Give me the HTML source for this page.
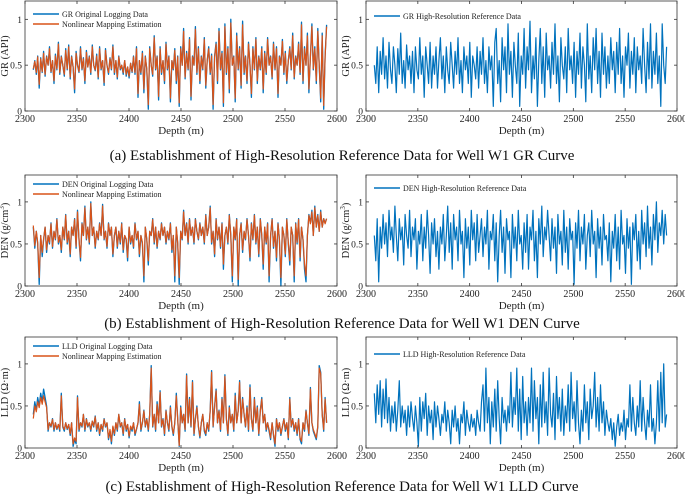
<!DOCTYPE html>
<html><head><meta charset="utf-8">
<style>
html,body{margin:0;padding:0;background:#fff;}
body{width:685px;height:495px;overflow:hidden;font-family:"Liberation Serif",serif;}
svg text{font-family:"Liberation Serif",serif;}
</style></head>
<body>
<svg id="fig" width="685" height="495" viewBox="0 0 685 495"></svg>
<script>
const depthStart = 2308, depthEnd = 2590;
const xTicks = [2300,2350,2400,2450,2500,2550,2600];
const yTicks = [0,0.5,1];
const yTickLabels = ["0","0.5","1"];

const grOrig = [0.45,0.55,0.4,0.6,0.25,0.58,0.42,0.65,0.38,0.6,0.5,0.7,0.42,0.55,0.3,0.62,0.45,0.75,0.4,0.6,
0.5,0.38,0.68,0.45,0.72,0.35,0.6,0.48,0.2,0.65,0.5,0.42,0.7,0.45,0.58,0.3,0.66,0.48,0.6,0.4,
0.72,0.5,0.44,0.62,0.35,0.7,0.45,0.55,0.28,0.68,0.5,0.4,0.58,0.45,0.72,0.4,0.55,0.35,0.6,0.45,
0.5,0.4,0.55,0.38,0.48,0.36,0.52,0.42,0.6,0.4,0.7,0.15,0.55,0.4,0.65,0.2,0.6,0.45,0.02,0.7,
0.5,0.38,0.82,0.45,0.6,0.12,0.7,0.4,0.55,0.3,0.75,0.45,0.6,0.1,0.55,0.45,0.68,0.3,0.6,0.05,
0.7,0.5,0.9,0.35,0.65,0.45,0.8,0.12,0.6,0.5,0.92,0.4,0.7,0.3,0.6,0.45,0.8,0.25,0.55,0.7,
0.4,0.62,0.02,0.6,0.75,0.3,0.9,0.45,0.65,0.05,0.95,0.4,0.7,0.2,1.0,0.5,0.6,0.1,0.85,0.45,
0.7,0.25,0.98,0.4,0.6,0.3,0.75,0.5,0.15,0.7,0.45,0.8,0.3,0.6,0.45,0.7,0.2,0.65,0.4,0.8,
0.5,0.6,0.35,0.75,0.45,0.7,0.15,0.6,0.5,0.78,0.4,0.65,0.3,0.55,0.7,0.45,0.85,0.35,0.6,0.5,
0.75,0.4,0.97,0.3,0.7,0.5,0.85,0.2,0.6,0.95,0.45,0.7,0.3,0.9,0.5,0.1,0.85,0.02,0.6,0.94];
const grEst = [0.46,0.54,0.42,0.59,0.29,0.57,0.43,0.63,0.4,0.59,0.5,0.68,0.43,0.55,0.33,0.6,0.46,0.73,0.42,0.59,
0.5,0.4,0.66,0.46,0.7,0.37,0.59,0.48,0.24,0.63,0.5,0.43,0.68,0.46,0.57,0.33,0.64,0.48,0.59,0.42,
0.7,0.5,0.45,0.6,0.37,0.68,0.46,0.55,0.31,0.66,0.5,0.42,0.57,0.46,0.7,0.42,0.55,0.37,0.59,0.46,
0.5,0.42,0.55,0.4,0.48,0.38,0.52,0.43,0.59,0.42,0.68,0.19,0.55,0.42,0.63,0.24,0.59,0.46,0.07,0.68,
0.5,0.4,0.8,0.46,0.59,0.16,0.68,0.42,0.55,0.33,0.73,0.46,0.59,0.14,0.55,0.46,0.66,0.33,0.59,0.09,
0.68,0.5,0.87,0.37,0.63,0.46,0.78,0.16,0.59,0.5,0.89,0.42,0.68,0.33,0.59,0.46,0.78,0.28,0.55,0.68,
0.42,0.6,0.07,0.59,0.73,0.33,0.87,0.46,0.63,0.09,0.92,0.42,0.68,0.24,0.96,0.5,0.59,0.14,0.82,0.46,
0.68,0.28,0.94,0.42,0.59,0.33,0.73,0.5,0.19,0.68,0.46,0.78,0.33,0.59,0.46,0.68,0.24,0.63,0.42,0.78,
0.5,0.59,0.37,0.73,0.46,0.68,0.19,0.59,0.5,0.76,0.42,0.63,0.33,0.55,0.68,0.46,0.82,0.37,0.59,0.5,
0.73,0.42,0.94,0.33,0.68,0.5,0.82,0.24,0.59,0.92,0.46,0.68,0.33,0.87,0.5,0.14,0.82,0.06,0.59,0.92];
const grRef = [0.5,0.3,0.7,0.2,0.65,0.4,0.8,0.35,0.6,0.25,0.75,0.45,0.3,0.7,0.5,0.2,0.68,0.4,0.85,0.3,
0.55,0.25,0.72,0.45,0.6,0.3,0.65,0.2,0.7,0.45,0.35,0.8,0.4,0.6,0.15,0.7,0.5,0.3,0.75,0.25,
0.6,0.4,0.7,0.25,0.55,0.8,0.35,0.6,0.2,0.7,0.45,0.3,0.75,0.5,0.25,0.65,0.4,0.8,0.3,0.55,
0.2,0.7,0.45,0.6,0.3,0.75,0.15,0.6,0.5,0.35,0.7,0.25,0.65,0.4,0.8,0.3,0.55,0.2,0.7,0.45,
0.6,0.05,0.75,0.9,0.3,0.55,0.1,0.8,0.45,0.7,0.2,0.95,0.4,0.65,0.15,0.75,0.5,0.3,0.85,0.05,
0.6,0.4,0.9,0.25,0.7,0.45,0.98,0.2,0.6,0.35,0.8,0.05,0.55,0.9,0.3,0.7,0.15,0.85,0.45,0.6,
0.25,0.75,0.4,0.95,0.3,0.6,0.1,0.8,0.5,0.35,0.7,0.2,0.9,0.45,0.6,0.3,0.75,0.15,0.65,0.4,
0.85,0.25,0.7,0.5,0.1,0.95,0.35,0.6,0.2,0.8,0.45,0.9,0.3,0.65,0.15,0.85,0.4,0.7,0.25,0.6,
0.3,0.8,0.45,0.65,0.2,0.75,0.4,0.9,0.3,0.6,0.15,0.7,0.5,0.85,0.25,0.65,0.4,0.8,0.2,0.7,
0.45,0.6,0.3,0.9,0.5,0.2,0.75,0.35,0.95,0.25,0.65,0.4,0.85,0.3,0.6,0.05,0.95,0.5,0.3,0.7];

const denOrig = [0.7,0.45,0.65,0.5,0.02,0.6,0.35,0.55,0.7,0.4,0.6,0.5,0.75,0.45,0.65,0.55,0.8,0.5,0.6,0.4,
0.7,0.55,0.85,0.5,0.65,0.35,0.7,0.6,0.8,0.45,0.9,0.55,0.3,0.75,0.6,0.95,0.55,0.7,0.5,1.0,
0.6,0.7,0.45,0.65,0.55,0.75,0.6,0.97,0.55,0.65,0.45,0.75,0.6,0.7,0.35,0.6,0.7,0.45,0.65,0.5,
0.75,0.4,0.6,0.55,0.3,0.7,0.5,0.6,0.45,0.75,0.55,0.65,0.35,0.6,0.5,0.05,0.7,0.55,0.25,0.65,
0.6,0.8,0.5,0.7,0.45,0.65,0.55,0.75,0.6,0.7,0.5,0.65,0.55,0.75,0.4,0.6,0.05,0.7,0.5,0.02,
0.65,0.55,0.9,0.6,0.75,0.5,0.8,0.6,0.7,0.5,0.8,0.65,0.55,0.75,0.6,0.7,0.5,0.85,0.6,0.7,
0.95,0.5,0.65,0.35,0.8,0.55,0.7,0.45,0.75,0.2,0.6,0.7,0.5,0.85,0.6,0.05,0.7,0.55,0.8,0.0,
0.6,0.75,0.4,0.65,0.55,0.8,0.6,0.3,0.75,0.55,0.85,0.5,0.7,0.35,0.8,0.6,0.2,0.7,0.5,0.75,
0.05,0.6,0.8,0.45,0.65,0.3,0.75,0.55,0.0,0.7,0.6,0.35,0.8,0.5,0.25,0.7,0.6,0.05,0.75,0.5,
0.8,0.3,0.7,0.55,0.2,0.05,0.6,0.85,0.75,0.9,0.6,0.95,0.7,0.85,0.65,0.9,0.7,0.8,0.75,0.8];
const denEst = [0.72,0.48,0.65,0.52,0.1,0.6,0.4,0.56,0.7,0.43,0.6,0.52,0.74,0.47,0.65,0.56,0.79,0.52,0.6,0.43,
0.7,0.56,0.84,0.52,0.65,0.38,0.7,0.6,0.79,0.47,0.88,0.56,0.34,0.74,0.6,0.93,0.56,0.7,0.52,0.98,
0.6,0.7,0.47,0.65,0.56,0.74,0.6,0.95,0.56,0.65,0.47,0.74,0.6,0.7,0.38,0.6,0.7,0.47,0.65,0.52,
0.74,0.43,0.6,0.56,0.34,0.7,0.52,0.6,0.47,0.74,0.56,0.65,0.38,0.6,0.52,0.12,0.7,0.56,0.3,0.65,
0.6,0.79,0.52,0.7,0.47,0.65,0.56,0.74,0.6,0.7,0.52,0.65,0.56,0.74,0.43,0.6,0.12,0.7,0.52,0.1,
0.65,0.56,0.88,0.6,0.74,0.52,0.79,0.6,0.7,0.52,0.79,0.65,0.56,0.74,0.6,0.7,0.52,0.84,0.6,0.7,
0.93,0.52,0.65,0.38,0.79,0.56,0.7,0.47,0.74,0.26,0.6,0.7,0.52,0.84,0.6,0.12,0.7,0.56,0.79,0.08,
0.6,0.74,0.43,0.65,0.56,0.79,0.6,0.34,0.74,0.56,0.84,0.52,0.7,0.38,0.79,0.6,0.26,0.7,0.52,0.74,
0.12,0.6,0.79,0.47,0.65,0.34,0.74,0.56,0.1,0.7,0.6,0.38,0.79,0.52,0.3,0.7,0.6,0.12,0.74,0.52,
0.79,0.34,0.7,0.56,0.26,0.12,0.6,0.84,0.74,0.88,0.6,0.93,0.7,0.84,0.65,0.88,0.7,0.8,0.74,0.8];
const denRef = [0.6,0.3,0.8,0.05,0.7,0.45,0.85,0.5,0.75,0.35,0.9,0.55,0.7,0.4,0.95,0.6,0.3,0.8,0.55,0.7,
0.25,0.85,0.6,0.45,0.9,0.35,0.7,0.55,0.8,0.2,0.65,0.5,0.85,0.3,0.7,0.45,0.9,0.6,0.15,0.75,
0.5,0.8,0.35,0.65,0.2,0.7,0.5,0.85,0.3,0.6,0.95,0.4,0.75,0.2,0.85,0.55,0.7,0.3,0.9,0.5,
0.65,0.1,0.8,0.45,0.7,0.25,0.9,0.55,0.75,0.3,0.85,0.4,0.6,0.8,0.35,0.7,0.5,0.9,0.2,0.65,
0.55,0.85,0.3,0.75,0.05,0.6,0.9,0.4,0.7,0.15,0.8,0.55,0.65,0.1,0.85,0.45,0.7,0.3,0.9,0.5,
0.6,0.2,0.75,0.4,0.85,0.2,0.7,0.55,0.9,0.3,0.65,0.1,0.8,0.5,0.95,0.35,0.7,0.55,0.9,0.6,
0.3,0.8,0.45,0.7,0.15,0.85,0.5,0.65,0.25,0.9,0.4,0.7,0.2,0.8,0.55,0.65,0.02,0.75,0.45,0.9,
0.3,0.7,0.5,0.85,0.2,0.6,0.75,0.35,0.9,0.5,0.65,0.1,0.8,0.45,0.7,0.25,0.85,0.55,0.6,0.3,
0.75,0.05,0.65,0.45,0.85,0.3,0.7,0.2,0.9,0.5,0.6,0.15,0.8,0.45,0.7,0.02,0.75,0.55,0.85,0.3,
0.65,0.2,0.9,0.5,0.75,0.35,0.95,0.45,0.7,0.25,0.85,0.55,1.0,0.4,0.75,0.6,0.9,0.5,0.85,0.6];

const lldOrig = [0.4,0.55,0.45,0.6,0.5,0.65,0.55,0.7,0.6,0.5,0.2,0.3,0.25,0.35,0.2,0.3,0.22,0.28,0.2,0.65,
0.25,0.2,0.3,0.22,0.28,0.15,0.3,0.02,0.1,0.05,0.62,0.2,0.3,0.25,0.4,0.2,0.35,0.25,0.3,0.2,
0.32,0.25,0.38,0.2,0.3,0.15,0.28,0.2,0.35,0.25,0.3,0.1,0.2,0.05,0.25,0.15,0.3,0.2,0.4,0.25,
0.3,0.15,0.35,0.2,0.28,0.12,0.25,0.2,0.3,0.15,0.22,0.3,0.55,0.2,0.3,0.45,0.25,0.35,0.2,0.4,
0.98,0.25,0.4,0.2,0.55,0.3,0.68,0.25,0.35,0.15,0.45,0.3,0.2,0.5,0.25,0.15,0.3,0.65,0.35,0.02,
0.5,0.3,0.4,0.2,0.88,0.3,0.6,0.25,0.8,0.15,0.35,0.5,0.25,0.12,0.3,0.4,0.2,0.15,0.3,0.2,
0.45,0.92,0.25,0.5,0.7,0.3,0.45,0.2,0.6,0.3,0.87,0.35,0.15,0.5,0.3,0.4,0.2,0.65,0.3,0.45,
0.8,0.3,0.6,0.4,0.25,0.5,0.2,0.75,0.35,0.2,0.6,0.3,0.5,0.15,0.45,0.6,0.3,0.4,0.2,0.3,
0.2,0.1,0.3,0.15,0.02,0.35,0.2,0.3,0.15,0.25,0.35,0.2,0.3,0.1,0.6,0.25,0.35,0.2,0.3,0.15,
0.35,0.1,0.05,0.3,0.2,0.45,0.3,0.15,0.72,0.3,0.2,0.15,0.1,0.25,0.98,0.9,0.4,0.2,0.6,0.3];
const lldEst = [0.35,0.5,0.43,0.55,0.48,0.6,0.52,0.62,0.55,0.48,0.22,0.3,0.26,0.34,0.22,0.3,0.23,0.28,0.22,0.62,
0.26,0.22,0.3,0.23,0.28,0.17,0.3,0.05,0.12,0.08,0.6,0.22,0.3,0.26,0.4,0.22,0.34,0.26,0.3,0.22,
0.32,0.26,0.37,0.22,0.3,0.17,0.28,0.22,0.34,0.26,0.3,0.12,0.22,0.08,0.26,0.17,0.3,0.22,0.4,0.26,
0.3,0.17,0.34,0.22,0.28,0.14,0.26,0.22,0.3,0.17,0.23,0.3,0.52,0.22,0.3,0.44,0.26,0.34,0.22,0.4,
0.95,0.26,0.4,0.22,0.52,0.3,0.66,0.26,0.34,0.17,0.44,0.3,0.22,0.48,0.26,0.17,0.3,0.62,0.34,0.03,
0.48,0.3,0.4,0.22,0.86,0.3,0.58,0.26,0.78,0.17,0.34,0.48,0.26,0.14,0.3,0.4,0.22,0.17,0.3,0.22,
0.44,0.9,0.26,0.48,0.68,0.3,0.44,0.22,0.58,0.3,0.85,0.34,0.17,0.48,0.3,0.4,0.22,0.62,0.3,0.44,
0.78,0.3,0.58,0.4,0.26,0.48,0.22,0.72,0.34,0.22,0.58,0.3,0.48,0.17,0.44,0.58,0.3,0.4,0.22,0.3,
0.22,0.12,0.3,0.17,0.05,0.34,0.22,0.3,0.17,0.26,0.34,0.22,0.3,0.12,0.58,0.26,0.34,0.22,0.3,0.17,
0.34,0.12,0.08,0.3,0.22,0.44,0.3,0.17,0.7,0.3,0.22,0.17,0.12,0.26,0.95,0.88,0.4,0.22,0.58,0.3];
const lldRef = [0.65,0.3,0.75,0.4,0.8,0.25,0.7,0.35,0.82,0.3,0.6,0.2,0.5,0.3,0.55,0.2,0.45,0.8,0.25,0.5,
0.3,0.45,0.15,0.5,0.25,0.55,0.35,0.2,0.5,0.3,0.02,0.6,0.2,0.55,0.35,0.65,0.15,0.5,0.3,0.45,
0.1,0.55,0.25,0.5,0.35,0.15,0.4,0.3,0.55,0.2,0.45,0.3,0.05,0.45,0.25,0.5,0.2,0.35,0.05,0.4,
0.3,0.55,0.15,0.45,0.3,0.2,0.4,0.25,0.35,0.15,0.45,0.3,0.2,0.55,0.75,0.2,0.95,0.3,0.6,0.05,
0.55,0.25,0.7,0.2,0.8,0.35,0.05,0.6,0.3,0.45,0.2,0.5,0.3,0.9,0.25,0.6,0.4,0.95,0.2,0.7,
0.1,0.85,0.3,0.55,0.15,0.6,0.3,0.95,0.2,0.8,0.35,0.6,0.05,0.75,0.25,0.9,0.3,0.55,0.15,0.95,
0.4,0.25,0.65,0.1,0.85,0.35,0.6,0.2,0.7,0.15,0.5,0.3,0.75,0.2,0.9,0.35,0.55,0.2,0.8,0.3,
0.05,0.45,0.2,0.75,0.3,0.55,0.1,0.7,0.35,0.5,0.9,0.25,0.6,0.2,0.75,0.3,0.55,0.15,0.45,0.3,
0.2,0.35,0.1,0.3,0.02,0.25,0.4,0.15,0.3,0.2,0.45,0.1,0.35,0.25,0.75,0.2,0.6,0.3,0.15,0.5,
0.25,0.8,0.2,0.6,0.3,0.1,0.45,0.25,0.75,0.2,0.35,0.05,0.3,0.8,0.2,0.9,0.3,1.0,0.25,0.4];

const BLUE = "#0072BD", ORANGE = "#D95319";
const NS = "http://www.w3.org/2000/svg";
const svg = document.getElementById("fig");

function el(tag, attrs, parent) {
  const e = document.createElementNS(NS, tag);
  for (const k in attrs) e.setAttribute(k, attrs[k]);
  (parent || svg).appendChild(e);
  return e;
}

function panel(name, x0, x1, y0, y1, ymax, seriesList, ylabelHtml, legendY) {
  const g = el("g", {});
  
  
  const xs = d => x0 + (d - 2300) / 300 * (x1 - x0);
  const ys = v => y1 - v / ymax * (y1 - y0);
  seriesList.forEach(s => {
    const n = s.values.length;
    const pts = s.values.map((v, i) => {
      const d = depthStart + i * (depthEnd - depthStart) / (n - 1);
      return xs(d).toFixed(1) + "," + ys(v).toFixed(1);
    }).join(" ");
    const p = el("polyline", {points: pts, fill: "none", stroke: s.color, "stroke-width": s.w, "stroke-linejoin": "round"}, g);
    
    
  });
  const box = el("rect", {x: x0, y: y0, width: x1 - x0, height: y1 - y0, fill: "none", stroke: "#333", "stroke-width": 0.8}, g);
  
  
  xTicks.forEach(t => {
    const x = xs(t);
    el("line", {x1: x, x2: x, y1: y1, y2: y1 - 3, stroke: "#333", "stroke-width": 0.8}, g);
    el("line", {x1: x, x2: x, y1: y0, y2: y0 + 3, stroke: "#333", "stroke-width": 0.8}, g);
    const tx = el("text", {x: x, y: y1 + 11, "font-size": 10, "text-anchor": "middle", fill: "#222"}, g);
    tx.textContent = t;
    
    
  });
  yTicks.forEach((t, i) => {
    const y = ys(t);
    el("line", {x1: x0, x2: x0 + 3, y1: y, y2: y, stroke: "#333", "stroke-width": 0.8}, g);
    el("line", {x1: x1, x2: x1 - 3, y1: y, y2: y, stroke: "#333", "stroke-width": 0.8}, g);
    const tx = el("text", {x: x0 - 3, y: y + 3.5, "font-size": 9.5, "text-anchor": "end", fill: "#222"}, g);
    tx.textContent = yTickLabels[i];
    
    
  });
  const xl = el("text", {x: (x0 + x1) / 2, y: y1 + 23, "font-size": 11, "text-anchor": "middle", fill: "#222"}, g);
  xl.textContent = "Depth (m)";
  
  
  const yl = el("text", {x: 0, y: 0, "font-size": 10.5, "text-anchor": "middle", fill: "#222", transform: "translate(" + (x0 - 17) + "," + ((y0 + y1) / 2) + ") rotate(-90)"}, g);
  yl.innerHTML = ylabelHtml;
  
  
  seriesList.forEach((s, i) => {
    const ly = legendY + i * 10;
    el("line", {x1: x0 + 8, x2: x0 + 34, y1: ly, y2: ly, stroke: s.color, "stroke-width": 1.6}, g);
    const lt = el("text", {x: x0 + 37, y: ly + 3, "font-size": 8, fill: "#222"}, g);
    lt.textContent = s.label;
    
    
  });
}

function caption(text, y, name) {
  const t = el("text", {x: 342, y: y, "font-size": 15, "text-anchor": "middle", fill: "#111"});
  t.textContent = text;
  
  
}

panel("gr-original-panel", 25, 337, 1, 111, 1.2,
  [{values: grOrig, color: BLUE, w: 1.3, name: "gr-original-line", label: "GR Original Logging Data"},
   {values: grEst, color: ORANGE, w: 1.2, name: "gr-estimation-line", label: "Nonlinear Mapping Estimation"}],
  "GR (API)", 14);
panel("gr-reference-panel", 366, 677, 1, 111, 1.2,
  [{values: grRef, color: BLUE, w: 1.2, name: "gr-reference-line", label: "GR High-Resolution Reference Data"}],
  "GR (API)", 16);
caption("(a) Establishment of High-Resolution Reference Data for Well W1 GR Curve", 160, "caption-a");

panel("den-original-panel", 25, 337, 175, 286, 1.32,
  [{values: denOrig, color: BLUE, w: 1.3, name: "den-original-line", label: "DEN Original Logging Data"},
   {values: denEst, color: ORANGE, w: 1.2, name: "den-estimation-line", label: "Nonlinear Mapping Estimation"}],
  'DEN (g/cm<tspan dy="-4" font-size="7">3</tspan><tspan dy="4">)</tspan>', 184);
panel("den-reference-panel", 366, 677, 175, 286, 1.32,
  [{values: denRef, color: BLUE, w: 1.2, name: "den-reference-line", label: "DEN High-Resolution Reference Data"}],
  'DEN (g/cm<tspan dy="-4" font-size="7">3</tspan><tspan dy="4">)</tspan>', 188);
caption("(b) Establishment of High-Resolution Reference Data for Well W1 DEN Curve", 328, "caption-b");

panel("lld-original-panel", 25, 337, 337, 448, 1.32,
  [{values: lldOrig, color: BLUE, w: 1.3, name: "lld-original-line", label: "LLD Original Logging Data"},
   {values: lldEst, color: ORANGE, w: 1.2, name: "lld-estimation-line", label: "Nonlinear Mapping Estimation"}],
  "LLD (Ω·m)", 346);
panel("lld-reference-panel", 366, 677, 337, 448, 1.32,
  [{values: lldRef, color: BLUE, w: 1.2, name: "lld-reference-line", label: "LLD High-Resolution Reference Data"}],
  "LLD (Ω·m)", 354);
caption("(c) Establishment of High-Resolution Reference Data for Well W1 LLD Curve", 491, "caption-c");
</script>
</body></html>
